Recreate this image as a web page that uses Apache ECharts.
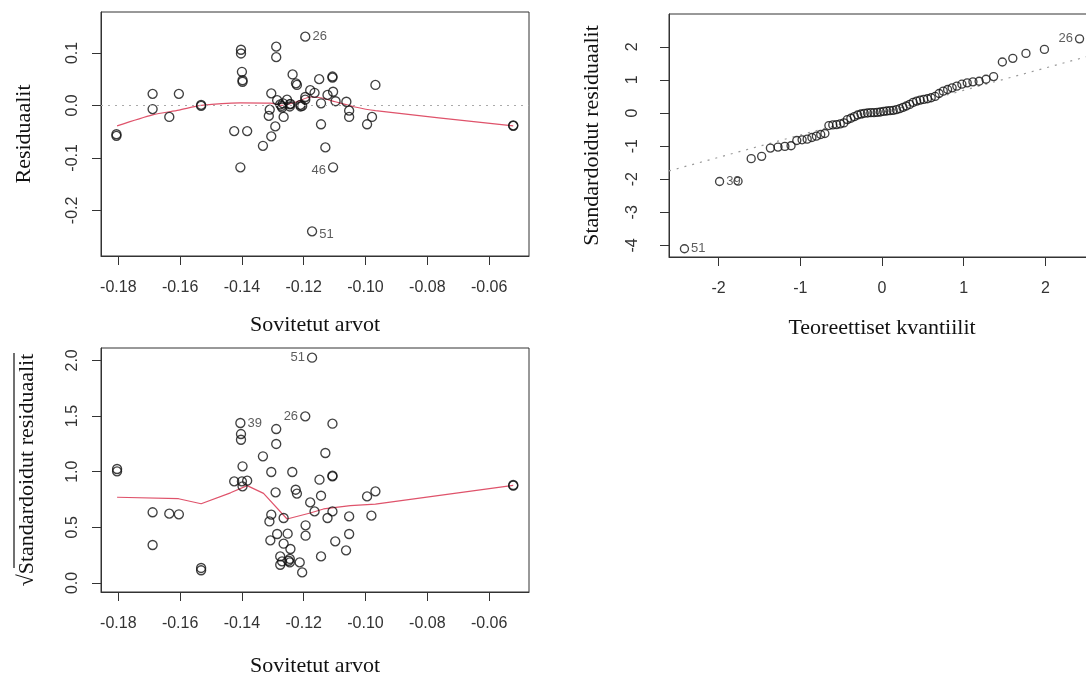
<!DOCTYPE html>
<html>
<head>
<meta charset="utf-8">
<script src="https://cdn.jsdelivr.net/npm/echarts@6/dist/echarts.min.js"></script>
<style>
html,body{margin:0;padding:0;background:#fff;}
#c{width:1086px;height:675px;}
</style>
</head>
<body>
<div id="c"></div>
<script>
// ---------- Residuals vs fitted ----------
const resFitted = [-0.1173,-0.1195,-0.1105,
  -0.1806,-0.1806,-0.1689,-0.1689,-0.1635,-0.1604,-0.1532,-0.1532,
  -0.1403,-0.1403,-0.1400,-0.1398,-0.1398,-0.1425,-0.1383,-0.1405,
  -0.1289,-0.1289,-0.1236,-0.1225,-0.1222,-0.1150,-0.1107,-0.1107,-0.0968,-0.1305,
  -0.1286,-0.1267,-0.1254,-0.1243,-0.1270,-0.1211,-0.1205,-0.1195,-0.1179,-0.1165,
  -0.1123,-0.1144,-0.1105,-0.1097,-0.1062,-0.1053,-0.1053,-0.0979,-0.0995,-0.1310,
  -0.1313,-0.1265,-0.1292,-0.1305,-0.1332,-0.1144,-0.1130,
  -0.1195,-0.1276,-0.1272,-0.1245,-0.1245,-0.1210,
  -0.0522,-0.0522];
const resValues = [-0.240,0.131,-0.118,
  -0.055,-0.058,0.022,-0.007,-0.022,0.022,-0.001,0.001,
  0.106,0.099,0.064,0.048,0.045,-0.049,-0.049,-0.118,
  0.112,0.092,0.059,0.042,0.039,0.050,0.055,0.053,0.039,0.023,
  0.010,0.004,0.011,0.003,-0.004,0.001,-0.001,0.016,0.029,0.024,
  0.020,0.004,0.026,0.008,0.007,-0.010,-0.022,-0.022,-0.036,-0.008,
  -0.020,-0.022,-0.040,-0.059,-0.077,-0.036,-0.080,
  0.011,0.002,-0.001,0.002,-0.002,-0.002,
  -0.038,-0.039];
const resLabels = [[0,'51','right'],[1,'26','right'],[2,'46','left']];
const resSmoothX = [-0.1804,-0.1689,-0.1604,-0.1532,-0.1405,-0.1308,-0.1270,-0.1222,-0.1178,-0.1146,-0.1098,-0.1038,-0.0968,-0.0522];
const resSmoothY = [-0.039,-0.018,-0.009,0.000,0.005,0.0045,0.000,0.007,0.016,0.0146,0.007,-0.0025,-0.010,-0.039];

// ---------- Normal Q-Q ----------
const qqTheo = [-2.418,-1.988,-1.762,-1.601,-1.473,-1.366,-1.273,-1.189,-1.113,-1.043,-0.978,-0.916,-0.858,-0.803,-0.750,-0.699,
  -0.650,-0.602,-0.556,-0.511,-0.467,-0.424,-0.381,-0.339,-0.298,-0.257,-0.217,-0.177,-0.137,-0.098,-0.059,-0.020,
  0.020,0.059,0.098,0.137,0.177,0.217,0.257,0.298,0.339,0.381,0.424,0.467,0.511,0.556,0.602,0.650,
  0.699,0.750,0.803,0.858,0.916,0.978,1.043,1.113,1.189,1.273,1.366,1.473,1.601,1.762,1.988,2.418];
const qqSample = [-4.10,-2.07,-2.06,-1.38,-1.31,-1.06,-1.03,-1.01,-0.99,-0.83,-0.81,-0.79,-0.74,-0.70,-0.65,-0.62,
  -0.38,-0.36,-0.35,-0.33,-0.30,-0.20,-0.16,-0.11,-0.06,-0.03,-0.01,0.00,0.01,0.01,0.02,0.03,
  0.05,0.06,0.07,0.08,0.10,0.13,0.17,0.21,0.26,0.32,0.36,0.39,0.41,0.43,0.46,0.50,
  0.59,0.66,0.71,0.76,0.81,0.87,0.91,0.94,0.96,1.02,1.10,1.54,1.65,1.80,1.92,2.24];
const qqLabels = [[0,'51','right'],[1,'39','right'],[63,'26','left']];
const qqLineX = [-2.607, 2.607];
const qqLineY = [-1.750, 1.770];

// ---------- Scale-Location ----------
const slFitted = [-0.1173,-0.1405,-0.1195,
  -0.1804,-0.1804,-0.1689,-0.1689,-0.1635,-0.1604,-0.1532,-0.1532,
  -0.1403,-0.1403,-0.1398,-0.1425,-0.1400,-0.1398,-0.1383,
  -0.1289,-0.1289,-0.1332,-0.1305,-0.1237,-0.1107,-0.1130,-0.1149,-0.1107,-0.1107,
  -0.1291,-0.1226,-0.1222,-0.1144,-0.1179,-0.1165,-0.1107,-0.1123,-0.1053,-0.0995,
  -0.0968,-0.0981,-0.1305,-0.1311,-0.1265,-0.1194,-0.1194,-0.1286,-0.1308,-0.1252,
  -0.1265,-0.1243,-0.1053,-0.1098,-0.1063,-0.1144,-0.1276,-0.1270,-0.1276,-0.1245,
  -0.1245,-0.1213,-0.1205,-0.1249,
  -0.0522,-0.0522];
const slValues = [2.024,1.437,1.497,
  1.024,1.003,0.635,0.341,0.623,0.617,0.135,0.114,
  1.338,1.287,1.048,0.913,0.913,0.868,0.919,
  1.383,1.249,1.138,0.997,0.997,1.431,1.168,0.928,0.964,0.958,
  0.814,0.838,0.803,0.784,0.724,0.643,0.643,0.584,0.598,0.778,
  0.823,0.605,0.614,0.553,0.584,0.518,0.425,0.440,0.383,0.443,
  0.353,0.305,0.440,0.374,0.293,0.239,0.239,0.194,0.164,0.216,
  0.185,0.185,0.095,0.200,
  0.874,0.880];
const slLabels = [[0,'51','left'],[1,'39','right'],[2,'26','left']];
const slSmoothX = [-0.1804,-0.1605,-0.1532,-0.1437,-0.1383,-0.1330,-0.1254,-0.1179,-0.1136,-0.1049,-0.0968,-0.0522];
const slSmoothY = [0.770,0.757,0.712,0.810,0.875,0.805,0.575,0.629,0.665,0.695,0.708,0.877];

// ---------- Axis ticks ----------
const fittedTicks = [-0.18,-0.16,-0.14,-0.12,-0.10,-0.08,-0.06];
const resTicks = [-0.2,-0.1,0.0,0.1];
const qqXTicks = [-2,-1,0,1,2];
const qqYTicks = [-4,-3,-2,-1,0,1,2];
const slTicks = [0.0,0.5,1.0,1.5,2.0];

// ---------- build ----------
const SANS = 'Liberation Sans';
const SERIF = 'Liberation Serif';
const RED = '#DF536B';
const PT = '#111';

function pts(xs, ys, labels, offsets) {
  return xs.map((x, i) => {
    const item = { value: [x, ys[i]] };
    const l = labels.find(d => d[0] === i);
    if (l) {
      item.label = {
        show: true, formatter: l[1], position: l[2], distance: 2,
        offset: (offsets && offsets[l[1]]) || [0, 0]
      };
    }
    return item;
  });
}
function pairs(xs, ys) { return xs.map((x, i) => [x, ys[i]]); }

function xAx(gi, min, max, ticks, fmt, gap, name) {
  return {
    type: 'value', gridIndex: gi, min: min, max: max,
    name: name, nameLocation: 'middle', nameGap: gap,
    nameTextStyle: { fontFamily: SERIF, fontSize: 22, color: '#111' },
    axisLine: { show: true, onZero: false, lineStyle: { color: '#333', width: 1 } },
    axisTick: { show: true, length: 9, customValues: ticks, lineStyle: { color: '#333' } },
    axisLabel: { customValues: ticks, formatter: fmt, margin: 24, fontFamily: SANS, fontSize: 16, color: '#333' },
    splitLine: { show: false }
  };
}
function yAx(gi, min, max, ticks, fmt, gap, name, margin) {
  return {
    type: 'value', gridIndex: gi, min: min, max: max,
    name: name, nameLocation: 'middle', nameGap: gap, nameRotate: 90,
    nameTextStyle: { fontFamily: SERIF, fontSize: 22, color: '#111' },
    axisLine: { show: true, onZero: false, lineStyle: { color: '#333', width: 1 } },
    axisTick: { show: true, length: 9, customValues: ticks, lineStyle: { color: '#333' } },
    axisLabel: { customValues: ticks, formatter: fmt, margin: margin, rotate: 90, fontFamily: SANS, fontSize: 16, color: '#333' },
    splitLine: { show: false }
  };
}
const f2 = v => Number(v).toFixed(2);
const f1 = v => Number(v).toFixed(1);
const f0 = v => String(Math.round(v));

const ptLabelStyle = { fontFamily: SANS, fontSize: 13, color: '#333' };
const circ = (size) => ({
  type: 'scatter', symbol: 'circle', symbolSize: size,
  itemStyle: { color: 'rgba(0,0,0,0)', borderColor: PT, borderWidth: 1.35 },
  label: Object.assign({ show: false }, ptLabelStyle),
  emphasis: { disabled: true }, z: 3
});

const gridBase = { show: true, borderColor: '#333', borderWidth: 1, backgroundColor: 'transparent', containLabel: false, outerBoundsMode: 'none' };

const chart = echarts.init(document.getElementById('c'), null, { renderer: 'canvas' });
chart.setOption({
  animation: false,
  backgroundColor: '#fff',
  grid: [
    Object.assign({ left: 101, top: 12, width: 428, height: 244 }, gridBase),
    Object.assign({ left: 669, top: 14, width: 426, height: 243 }, gridBase),
    Object.assign({ left: 101, top: 348, width: 428, height: 244 }, gridBase)
  ],
  xAxis: [
    xAx(0, -0.1856, -0.0471, fittedTicks, f2, 58, 'Sovitetut arvot'),
    xAx(1, -2.607, 2.607, qqXTicks, f0, 60, 'Teoreettiset kvantiilit'),
    xAx(2, -0.1856, -0.0471, fittedTicks, f2, 63, 'Sovitetut arvot')
  ],
  yAxis: [
    yAx(0, -0.287, 0.178, resTicks, f1, 66, 'Residuaalit', 20),
    yAx(1, -4.35, 2.99, qqYTicks, f0, 66, 'Standardoidut residuaalit', 28),
    yAx(2, -0.081, 2.111, slTicks, f1, 63, '\u221AStandardoidut residuaalit', 20)
  ],
  series: [
    Object.assign(circ(9), {
      xAxisIndex: 0, yAxisIndex: 0,
      data: pts(resFitted, resValues, resLabels, { '51': [0, 3], '46': [0, 3] }),
      markLine: {
        silent: true, symbol: 'none', label: { show: false },
        lineStyle: { color: '#aaa', type: [2, 5], width: 1.2 },
        data: [{ yAxis: 0 }]
      }
    }),
    {
      type: 'line', xAxisIndex: 0, yAxisIndex: 0, data: pairs(resSmoothX, resSmoothY),
      showSymbol: false, smooth: 0.25, lineStyle: { color: RED, width: 1.2 }, z: 2
    },
    Object.assign(circ(8), {
      xAxisIndex: 1, yAxisIndex: 1,
      data: pts(qqTheo, qqSample, qqLabels)
    }),
    {
      type: 'line', xAxisIndex: 1, yAxisIndex: 1, data: pairs(qqLineX, qqLineY),
      showSymbol: false, lineStyle: { color: '#999', type: [2, 6], width: 1.2 }, z: 1
    },
    Object.assign(circ(9), {
      xAxisIndex: 2, yAxisIndex: 2,
      data: pts(slFitted, slValues, slLabels)
    }),
    {
      type: 'line', xAxisIndex: 2, yAxisIndex: 2, data: pairs(slSmoothX, slSmoothY),
      showSymbol: false, lineStyle: { color: RED, width: 1.2 }, z: 2
    }
  ],
  graphic: [
    { type: 'line', shape: { x1: 14, y1: 353, x2: 14, y2: 568 }, style: { stroke: '#111', lineWidth: 1.2 } }
  ]
});
</script>
</body>
</html>
